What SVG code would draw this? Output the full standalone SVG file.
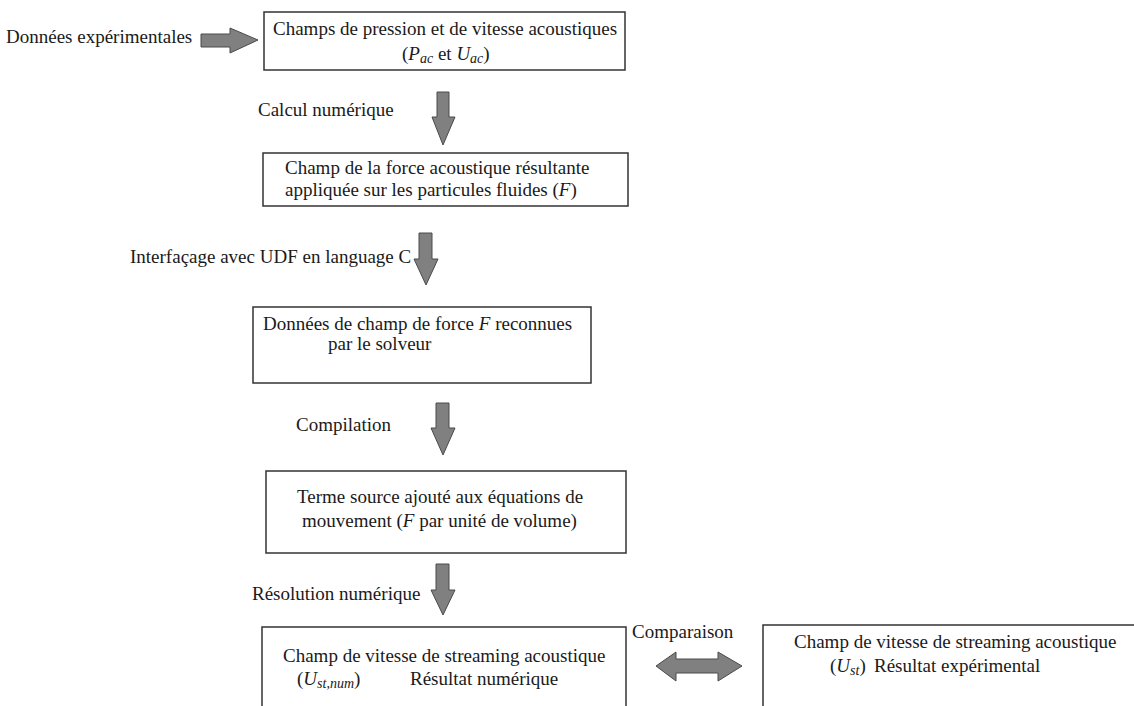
<svg xmlns="http://www.w3.org/2000/svg" width="1134" height="706" viewBox="0 0 1134 706">
<style>
  text { font-family: "Liberation Serif", "Times New Roman", serif; font-size: 19px; fill: #1a1a1a; }
  .box { fill: #ffffff; stroke: #333333; stroke-width: 1.5; }
  .arr { fill: #808080; stroke: #4a4a4a; stroke-width: 1; }
  .i { font-style: italic; }
  .sub { font-style: italic; font-size: 14px; }
</style>
<rect width="1134" height="706" fill="#ffffff"/>

<g id="connectors">
  <polygon class="arr" points="201,34 230,34 230,28 258,40 230,53 230,47 201,47"/>
  <polygon class="arr" points="437,92 449,92 449,117 455,117 443,145 432,117 437,117"/>
  <polygon class="arr" points="419,233 432,233 432,259 438,259 426,285 414,259 419,259"/>
  <polygon class="arr" points="436,403 449,403 449,428 455,428 443,455 431,428 436,428"/>
  <polygon class="arr" points="436,564 449,564 449,590 455,590 443,615 431,590 436,590"/>
  <polygon class="arr" points="656,666 676,652 676,659 718,659 718,652 742,666 718,681 718,673 676,673 676,681"/>
  <text x="6" y="43">Données expérimentales</text>
  <text x="258" y="116">Calcul numérique</text>
  <text x="130" y="263">Interfaçage avec UDF en language C</text>
  <text x="296" y="431">Compilation</text>
  <text x="252" y="600">Résolution numérique</text>
  <text x="632" y="638">Comparaison</text>
</g>

<g id="node1">
  <rect class="box" x="264" y="12" width="361" height="58"/>
  <text x="273" y="35">Champs de pression et de vitesse acoustiques</text>
  <text x="402" y="60">(<tspan class="i">P</tspan><tspan class="sub" dy="3">ac</tspan><tspan dy="-3"> et </tspan><tspan class="i">U</tspan><tspan class="sub" dy="3">ac</tspan><tspan dy="-3">)</tspan></text>
</g>

<g id="node2">
  <rect class="box" x="263" y="153" width="365" height="53"/>
  <text x="285" y="174">Champ de la force acoustique résultante</text>
  <text x="285" y="196">appliquée sur les particules fluides (<tspan class="i">F</tspan>)</text>
</g>

<g id="node3">
  <rect class="box" x="253" y="307" width="338" height="76"/>
  <text x="263" y="330">Données de champ de force <tspan class="i">F</tspan> reconnues</text>
  <text x="328" y="350">par le solveur</text>
</g>

<g id="node4">
  <rect class="box" x="266" y="471" width="360" height="82"/>
  <text x="297" y="503">Terme source ajouté aux équations de</text>
  <text x="302" y="527">mouvement (<tspan class="i">F</tspan> par unité de volume)</text>
</g>

<g id="node5">
  <rect class="box" x="262" y="627" width="364" height="100"/>
  <text x="283" y="662">Champ de vitesse de streaming acoustique</text>
  <text x="297" y="685">(<tspan class="i">U</tspan><tspan class="sub" dy="3">st,num</tspan><tspan dy="-3">)</tspan></text>
  <text x="410" y="685">Résultat numérique</text>
</g>

<g id="node6">
  <rect class="box" x="763" y="625" width="420" height="120"/>
  <text x="794" y="648">Champ de vitesse de streaming acoustique</text>
  <text x="830" y="672">(<tspan class="i">U</tspan><tspan class="sub" dy="3">st</tspan><tspan dy="-3">)</tspan></text>
  <text x="874" y="672">Résultat expérimental</text>
</g>
</svg>
